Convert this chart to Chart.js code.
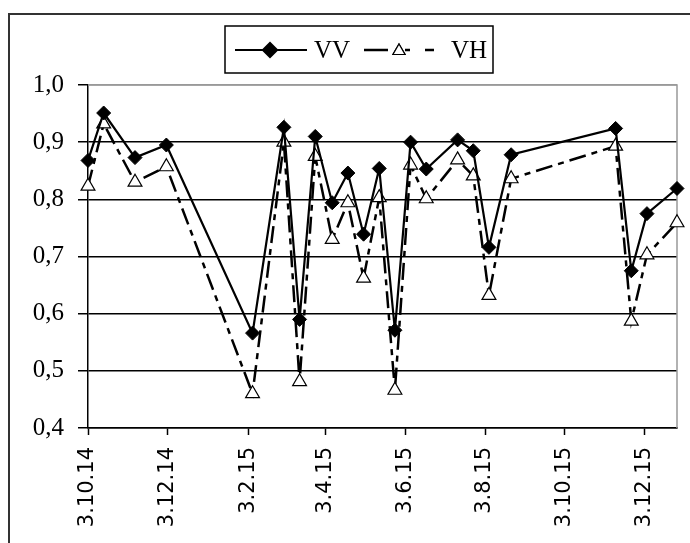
<!DOCTYPE html>
<html>
<head>
<meta charset="utf-8">
<script src="https://cdn.jsdelivr.net/npm/chart.js@4.4.0/dist/chart.umd.min.js"></script>
<style>
  html, body { margin: 0; padding: 0; background: #fff; }
  #box { width: 690px; height: 543px; }
</style>
</head>
<body>
<div id="box"><canvas id="grafica"></canvas></div>
<script>
// fechas de adquisicion
var fechas = ['2014-10-03', '2014-10-15', '2014-11-08', '2014-12-02', '2015-02-06', '2015-03-02',
  '2015-03-14', '2015-03-26', '2015-04-08', '2015-04-20', '2015-05-02', '2015-05-14',
  '2015-05-26', '2015-06-07', '2015-06-19', '2015-07-13', '2015-07-25', '2015-08-06',
  '2015-08-23', '2015-11-11', '2015-11-23', '2015-12-05', '2015-12-28'];
var valoresVV = [0.868, 0.951, 0.873, 0.895, 0.566, 0.926, 0.590, 0.910, 0.794, 0.846, 0.739, 0.854,
  0.571, 0.900, 0.853, 0.904, 0.885, 0.716, 0.878, 0.924, 0.675, 0.775, 0.819];
var valoresVH = [0.823, 0.932, 0.830, 0.857, 0.460, 0.900, 0.481, 0.875, 0.730, 0.794, 0.662, 0.803,
  0.466, 0.860, 0.801, 0.869, 0.841, 0.632, 0.836, 0.893, 0.587, 0.703, 0.759];
var fechasTicks = ['2014-10-03', '2014-12-03', '2015-02-03', '2015-04-03', '2015-06-03',
  '2015-08-03', '2015-10-03', '2015-12-03'];
var etiquetasTicks = ['3.10.14', '3.12.14', '3.2.15', '3.4.15', '3.6.15', '3.8.15', '3.10.15', '3.12.15'];
var fechaFin = '2015-12-28';

function dia(s) {
  var p = s.split('-');
  return Date.UTC(+p[0], +p[1] - 1, +p[2]) / 86400000;
}
var inicio = dia(fechas[0]);
var posTicks = fechasTicks.map(function (f) { return dia(f) - inicio; });

var puntosVV = [], puntosVH = [];
for (var i = 0; i < fechas.length; i++) {
  puntosVV.push({ x: dia(fechas[i]) - inicio, y: valoresVV[i] });
  puntosVH.push({ x: dia(fechas[i]) - inicio, y: valoresVH[i] });
}

var marcos = {
  id: 'marcos',
  beforeDraw: function (chart) {
    var ctx = chart.ctx;
    ctx.save();
    ctx.strokeStyle = '#333';
    ctx.lineWidth = 2;
    ctx.strokeRect(9, 14, 800, 700);
    ctx.restore();
  },
  beforeDatasetsDraw: function (chart) {
    var ctx = chart.ctx, a = chart.chartArea;
    ctx.save();
    ctx.strokeStyle = '#999';
    ctx.lineWidth = 1.5;
    ctx.beginPath();
    ctx.moveTo(a.left, a.top);
    ctx.lineTo(a.right, a.top);
    ctx.lineTo(a.right, a.bottom);
    ctx.stroke();
    ctx.restore();
  },
  afterDraw: function (chart) {
    var ctx = chart.ctx;
    ctx.save();
    ctx.strokeStyle = '#000';
    ctx.lineWidth = 1.5;
    ctx.strokeRect(225, 26, 268, 47);
    var y = 50;
    // VV
    ctx.lineWidth = 2.2;
    ctx.beginPath();
    ctx.moveTo(235, y); ctx.lineTo(307, y);
    ctx.stroke();
    ctx.fillStyle = '#000';
    ctx.beginPath();
    Chart.helpers.drawPoint(ctx, { pointStyle: 'rectRot', radius: 7, borderWidth: 1 }, 270, y);
    ctx.fill();
    // VH: raya larga, triangulo, dos rayas cortas
    ctx.lineWidth = 2.5;
    ctx.beginPath();
    ctx.moveTo(364, y); ctx.lineTo(388, y);
    ctx.moveTo(405, y); ctx.lineTo(410, y);
    ctx.moveTo(425, y); ctx.lineTo(434, y);
    ctx.stroke();
    ctx.fillStyle = '#fff';
    ctx.lineWidth = 1.2;
    ctx.beginPath();
    Chart.helpers.drawPoint(ctx, { pointStyle: 'triangle', radius: 7, borderWidth: 1.2 }, 399, y + 1);
    ctx.fill();
    ctx.stroke();
    ctx.fillStyle = '#000';
    ctx.font = '25px "Liberation Serif"';
    ctx.textBaseline = 'middle';
    ctx.fillText('VV', 314, y + 1);
    ctx.fillText('VH', 451, y + 1);
    ctx.restore();
  }
};

var ctx = document.getElementById('grafica').getContext('2d');
var grafica = new Chart(ctx, {
  type: 'line',
  data: {
    datasets: [{
      label: 'VV',
      data: puntosVV,
      borderColor: '#000',
      backgroundColor: '#000',
      borderWidth: 2.2,
      pointStyle: 'rectRot',
      pointRadius: 7,
      pointBorderWidth: 1,
      pointBackgroundColor: '#000',
      pointBorderColor: '#000',
      clip: false,
      order: 1
    }, {
      label: 'VH',
      data: puntosVH,
      borderColor: '#000',
      borderWidth: 2.5,
      borderDash: [17, 6, 6, 6],
      pointStyle: 'triangle',
      pointRadius: 8,
      pointBorderWidth: 1.2,
      pointBackgroundColor: '#fff',
      pointBorderColor: '#000',
      clip: false,
      order: 2
    }]
  },
  options: {
    responsive: true,
    maintainAspectRatio: false,
    animation: false,
    layout: { autoPadding: false, padding: { top: 85, right: 13, left: 0, bottom: 0 } },
    plugins: { legend: { display: false }, tooltip: { enabled: false } },
    scales: {
      x: {
        type: 'linear',
        min: 0,
        max: dia(fechaFin) - inicio,
        afterBuildTicks: function (scale) {
          scale.ticks = posTicks.map(function (v) { return { value: v }; });
        },
        afterFit: function (scale) { scale.height = 115; },
        grid: { drawOnChartArea: false, drawTicks: true, tickLength: 7, tickColor: '#000', tickWidth: 1.5 },
        border: { color: '#000', width: 1.5 },
        ticks: {
          autoSkip: false,
          minRotation: 90,
          maxRotation: 90,
          padding: 12,
          color: '#000',
          font: { family: 'DejaVu Sans', size: 21 },
          callback: function (v) {
            var k = posTicks.indexOf(v);
            return k >= 0 ? etiquetasTicks[k] : '';
          }
        }
      },
      y: {
        min: 0.4,
        max: 1.0,
        afterFit: function (scale) { scale.width = 88; },
        grid: {
          color: function (c) { return c.tick && c.tick.value > 0.95 ? '#999' : '#000'; },
          lineWidth: 1.5,
          tickLength: 10,
          tickColor: '#000',
          tickWidth: 1.5
        },
        border: { color: '#000', width: 1.5 },
        ticks: {
          stepSize: 0.1,
          padding: 14,
          color: '#000',
          font: { family: 'Liberation Serif', size: 25 },
          callback: function (v) { return v.toFixed(1).replace('.', ','); }
        }
      }
    }
  },
  plugins: [marcos]
});
</script>
</body>
</html>
